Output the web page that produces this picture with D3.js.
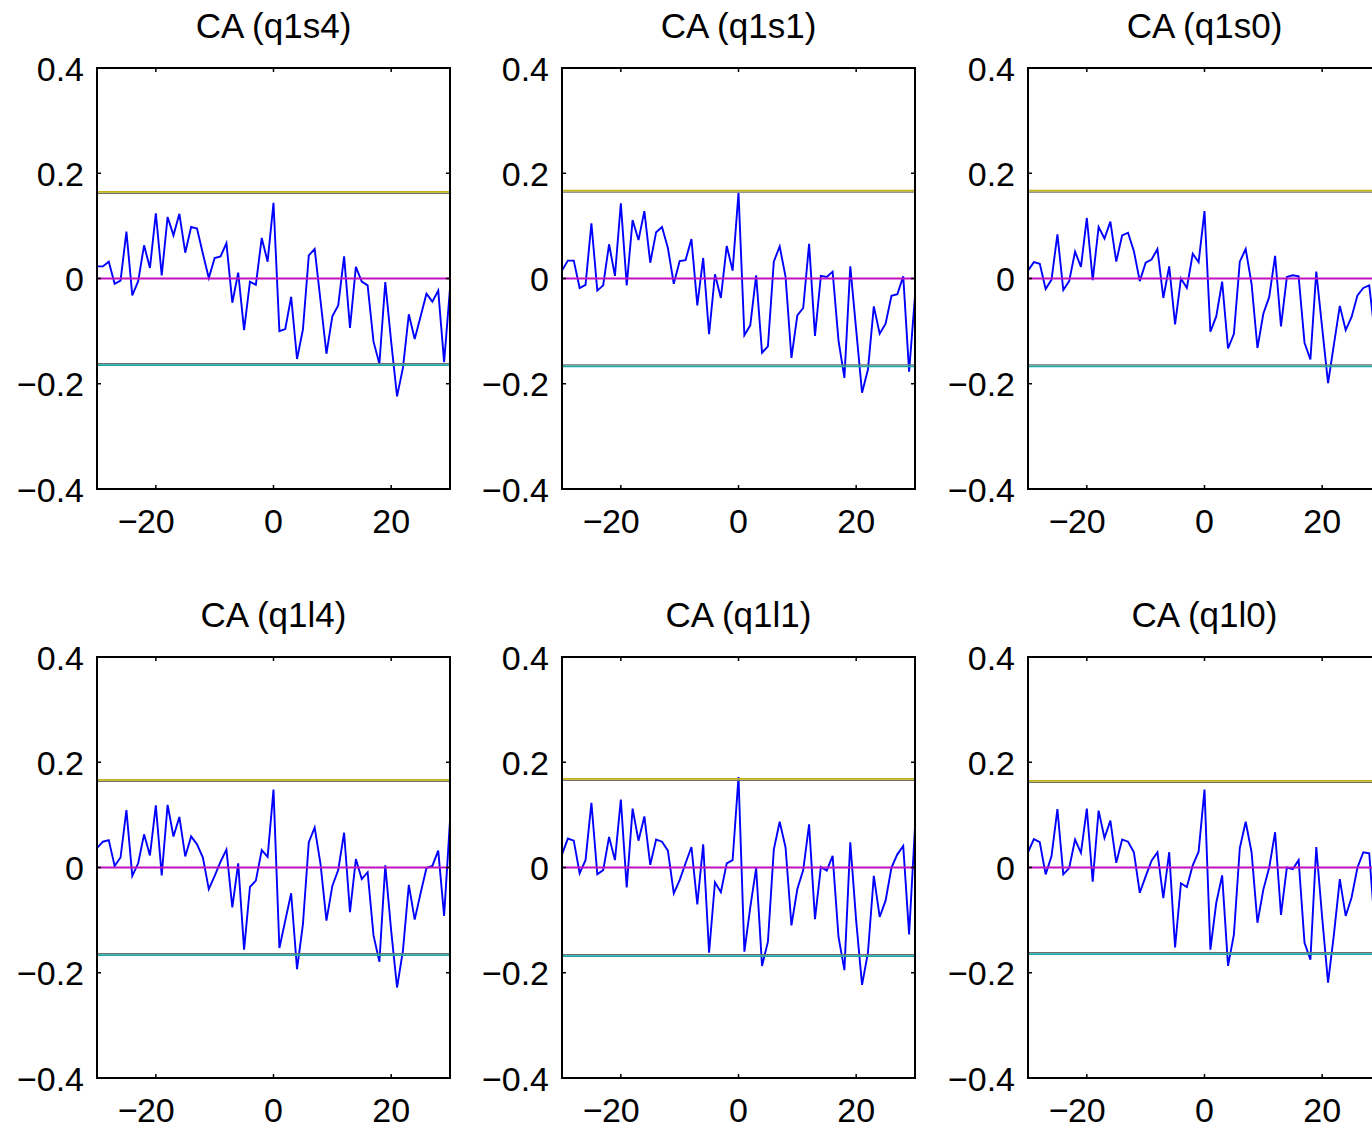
<!DOCTYPE html>
<html>
<head>
<meta charset="utf-8">
<script src="https://cdn.jsdelivr.net/npm/d3@7"></script>
<style>
  html, body { margin: 0; padding: 0; background: #fff; }
  svg { display: block; }
  text { font-family: "Liberation Sans", Helvetica, Arial, sans-serif; fill: #000; }
</style>
</head>
<body>
<svg id="fig" width="1372" height="1131"></svg>
<script>
// Lags of the cross-correlation (x axis)
const lags = [-30,-29,-28,-27,-26,-25,-24,-23,-22,-21,-20,-19,-18,-17,-16,-15,-14,-13,-12,-11,
  -10,-9,-8,-7,-6,-5,-4,-3,-2,-1,0,1,2,3,4,5,6,7,8,9,10,11,12,13,14,15,16,17,18,19,20,
  21,22,23,24,25,26,27,28,29,30];

// Panel titles, row by row
const titles = ["CA (q1s4)", "CA (q1s1)", "CA (q1s0)", "CA (q1l4)", "CA (q1l1)", "CA (q1l0)"];

// Cross-correlation coefficients for each panel
const ccQ1s4 = [0.023,0.023,0.032,-0.010,-0.004,0.089,-0.032,-0.005,0.063,0.020,0.124,0.006,0.117,0.082,0.123,0.049,0.098,0.095,0.047,0.001,
  0.039,0.042,0.067,-0.046,0.011,-0.098,-0.006,-0.012,0.077,0.032,0.144,-0.100,-0.096,-0.035,-0.153,-0.097,0.044,0.056,-0.043,-0.143,
  -0.072,-0.051,0.042,-0.094,0.022,-0.006,-0.013,-0.120,-0.162,-0.007,-0.120,-0.224,-0.170,-0.068,-0.115,-0.072,-0.029,-0.044,-0.023,-0.159,-0.019];
const ccQ1s1 = [0.015,0.034,0.034,-0.018,-0.012,0.105,-0.023,-0.013,0.065,0.005,0.143,-0.013,0.111,0.073,0.128,0.030,0.088,0.098,0.058,-0.010,
  0.033,0.035,0.075,-0.051,0.039,-0.106,0.008,-0.037,0.062,0.015,0.163,-0.108,-0.089,0.006,-0.141,-0.129,0.032,0.061,0.003,-0.151,
  -0.070,-0.056,0.066,-0.109,0.005,0.003,0.013,-0.118,-0.189,0.023,-0.097,-0.217,-0.173,-0.053,-0.105,-0.086,-0.033,-0.030,0.004,-0.177,-0.033];
const ccQ1s0 = [0.015,0.031,0.028,-0.020,-0.002,0.084,-0.022,-0.005,0.051,0.022,0.115,-0.003,0.098,0.076,0.108,0.032,0.082,0.087,0.052,-0.005,
  0.030,0.036,0.056,-0.037,0.023,-0.087,0.000,-0.018,0.047,0.031,0.128,-0.101,-0.072,-0.006,-0.133,-0.105,0.032,0.056,-0.010,-0.132,
  -0.067,-0.035,0.043,-0.091,0.003,0.006,0.004,-0.122,-0.154,0.013,-0.094,-0.199,-0.125,-0.052,-0.098,-0.073,-0.032,-0.018,-0.013,-0.110,-0.030];
const ccQ1l4 = [0.037,0.049,0.052,0.003,0.019,0.109,-0.016,0.008,0.063,0.023,0.118,-0.015,0.119,0.059,0.096,0.021,0.059,0.044,0.019,-0.041,
  -0.016,0.011,0.034,-0.076,0.008,-0.156,-0.037,-0.025,0.033,0.020,0.148,-0.153,-0.101,-0.049,-0.193,-0.108,0.048,0.076,0.006,-0.101,
  -0.035,-0.005,0.066,-0.085,0.016,-0.022,-0.009,-0.129,-0.179,0.004,-0.120,-0.228,-0.158,-0.033,-0.099,-0.049,-0.001,0.003,0.032,-0.092,0.089];
const ccQ1l1 = [0.025,0.055,0.051,-0.011,0.014,0.123,-0.013,-0.005,0.058,0.014,0.129,-0.038,0.112,0.051,0.097,0.005,0.053,0.049,0.032,-0.049,
  -0.024,0.008,0.039,-0.070,0.044,-0.162,-0.028,-0.047,0.008,0.014,0.172,-0.160,-0.076,-0.001,-0.187,-0.141,0.034,0.087,0.038,-0.110,
  -0.041,-0.005,0.082,-0.098,0.001,-0.006,0.022,-0.132,-0.195,0.048,-0.101,-0.223,-0.162,-0.016,-0.094,-0.063,0.000,0.025,0.041,-0.127,0.077];
const ccQ1l0 = [0.029,0.054,0.048,-0.013,0.022,0.111,-0.013,-0.001,0.053,0.028,0.112,-0.027,0.108,0.056,0.089,0.009,0.053,0.049,0.029,-0.048,
  -0.017,0.013,0.029,-0.058,0.029,-0.152,-0.030,-0.037,0.004,0.030,0.148,-0.156,-0.067,-0.015,-0.187,-0.127,0.037,0.087,0.029,-0.105,
  -0.042,0.000,0.067,-0.090,0.000,-0.003,0.014,-0.143,-0.175,0.039,-0.095,-0.219,-0.127,-0.022,-0.092,-0.057,0.000,0.029,0.027,-0.120,0.050];
const series = [ccQ1s4, ccQ1s1, ccQ1s0, ccQ1l4, ccQ1l1, ccQ1l0];

// Significance bound (+/-) for each panel
const bounds = [0.164, 0.1665, 0.1665, 0.166, 0.168, 0.164];

// Tick values
const xTicks = [-20, 0, 20];
const yTicks = [-0.4, -0.2, 0, 0.2, 0.4];

// Figure layout
const colLeft = [97, 562, 1028];
const rowTop = [68, 657];
const plotW = 353, plotH = 421;
const tickLen = 4;
const tickFont = 34;
const titleFont = 35;
const MINUS = "\u2212";

const fmt = v => (v < 0 ? MINUS : "") + String(Math.abs(v));

const svg = d3.select("#fig");
svg.append("rect").attr("width", 1372).attr("height", 1131).attr("fill", "#fff");

series.forEach((vals, i) => {
  const left = colLeft[i % 3], top = rowTop[Math.floor(i / 3)];
  const x = d3.scaleLinear().domain([-30, 30]).range([left, left + plotW]);
  const y = d3.scaleLinear().domain([-0.4, 0.4]).range([top + plotH, top]);
  const g = svg.append("g");

  // correlation trace
  const line = d3.line().x((d, k) => x(lags[k])).y(d => y(d));
  g.append("path").datum(vals)
    .attr("d", line)
    .attr("fill", "none")
    .attr("stroke", "#0000ff")
    .attr("stroke-width", 1.9)
    .attr("stroke-linejoin", "miter");

  // zero reference and significance bounds
  const hline = (v, color, w, shift) => g.append("line")
    .attr("x1", x(-30)).attr("x2", x(30))
    .attr("y1", y(v) + shift).attr("y2", y(v) + shift)
    .attr("stroke", color).attr("stroke-width", w);
  hline(0, "#c010c0", 1.8, 0);
  hline(bounds[i], "#707070", 1.2, 1.2);
  hline(bounds[i], "#c2b312", 1.8, -0.3);
  hline(-bounds[i], "#707070", 1.2, -1.2);
  hline(-bounds[i], "#1fa8a8", 1.8, 0.3);

  // box
  g.append("rect")
    .attr("x", left).attr("y", top).attr("width", plotW).attr("height", plotH)
    .attr("fill", "none").attr("stroke", "#000").attr("stroke-width", 2);

  // inward ticks on all four sides
  xTicks.forEach(t => {
    g.append("line").attr("x1", x(t)).attr("x2", x(t))
      .attr("y1", top + plotH).attr("y2", top + plotH - tickLen)
      .attr("stroke", "#000").attr("stroke-width", 1.5);
    g.append("line").attr("x1", x(t)).attr("x2", x(t))
      .attr("y1", top).attr("y2", top + tickLen)
      .attr("stroke", "#000").attr("stroke-width", 1.5);
    // digits are centred on the tick; a minus sign hangs off to the left
    const digits = g.append("text").attr("x", x(t)).attr("y", top + plotH + 44)
      .attr("text-anchor", "middle").attr("font-size", tickFont)
      .text(String(Math.abs(t)));
    if (t < 0) {
      const w = digits.node().getComputedTextLength();
      g.append("text").attr("x", x(t) - w / 2 + 1).attr("y", top + plotH + 44)
        .attr("text-anchor", "end").attr("font-size", tickFont)
        .text(MINUS);
    }
  });
  yTicks.forEach(t => {
    g.append("line").attr("x1", left).attr("x2", left + tickLen)
      .attr("y1", y(t)).attr("y2", y(t))
      .attr("stroke", "#000").attr("stroke-width", 1.5);
    g.append("line").attr("x1", left + plotW).attr("x2", left + plotW - tickLen)
      .attr("y1", y(t)).attr("y2", y(t))
      .attr("stroke", "#000").attr("stroke-width", 1.5);
    g.append("text").attr("x", left - 13).attr("y", y(t)).attr("dy", "0.37em")
      .attr("text-anchor", "end").attr("font-size", tickFont)
      .text(fmt(t));
  });

  // title
  g.append("text").attr("x", left + plotW / 2).attr("y", top - 30)
    .attr("text-anchor", "middle").attr("font-size", titleFont)
    .text(titles[i]);
});
</script>
</body>
</html>
